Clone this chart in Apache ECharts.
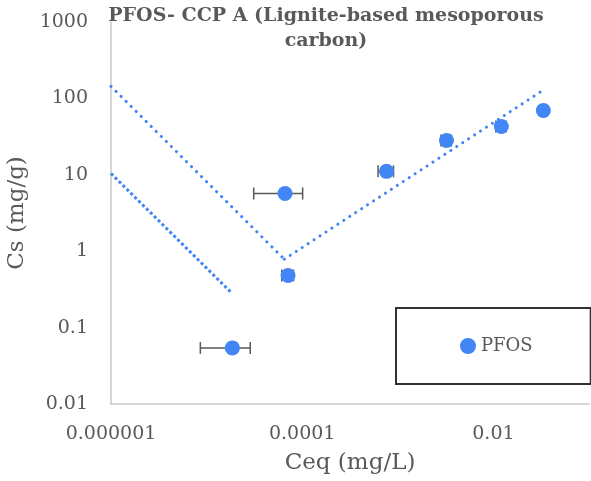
<!DOCTYPE html>
<html>
<head>
<meta charset="utf-8">
<script src="https://cdn.jsdelivr.net/npm/echarts@6/dist/echarts.min.js"></script>
<style>
  html, body { margin: 0; padding: 0; background: #fff; }
  #main { width: 591px; height: 481px; }
</style>
</head>
<body>
<div id="main"></div>
<script>
// PFOS points
const ceq = [1.86e-5, 6.61e-5, 7.11e-5, 7.62e-4, 3.23e-3, 1.21e-2, 3.33e-2];
const cs = [0.0542, 5.69, 0.481, 11.1, 28.1, 42.9, 69.5];
const ceqErr = [1e-5, 3.5e-5, 1e-5, 1.4e-4, 4e-4, 1.5e-3, 2.7e-3];

// trendline end points
const trendA = [[1e-6, 10.4], [1.8e-5, 0.29]];
const trendB = [[1e-6, 144], [6.5e-5, 0.786]];
const trendC = [[6.5e-5, 0.786], [3.18e-2, 124]];

const blue = '#4285f4';
const grey = '#595959';
const serif = 'DejaVu Serif';

var myChart = echarts.init(document.getElementById('main'));

function decimalLabel(v) {
  var e = Math.round(Math.log10(v));
  return e < 0 ? v.toFixed(-e) : String(Math.round(v));
}

var dotted = { color: blue, width: 3, type: [0.1, 7], cap: 'round' };

var option = {
  animation: false,
  title: {
    text: 'PFOS- CCP A (Lignite-based mesoporous\ncarbon)',
    left: 326,
    top: 4,
    padding: 0,
    textAlign: 'center',
    textStyle: { fontFamily: serif, fontWeight: 'bold', fontSize: 19, color: grey, lineHeight: 25 }
  },
  legend: {
    data: ['PFOS'],
    left: 396,
    top: 308,
    padding: [29, 58, 29, 64],
    borderColor: '#333',
    borderWidth: 2,
    icon: 'circle',
    itemWidth: 16,
    itemHeight: 16,
    itemGap: 5,
    textStyle: { fontFamily: serif, fontSize: 18, color: grey }
  },
  grid: { left: 111, right: 2, top: 22, bottom: 77, outerBoundsMode: 'none' },
  xAxis: {
    type: 'log',
    min: 1e-6,
    max: 0.1,
    name: 'Ceq (mg/L)',
    nameLocation: 'middle',
    nameGap: 48,
    nameTextStyle: { fontFamily: serif, fontSize: 23, color: grey },
    axisLine: { lineStyle: { color: '#c8c8c8', width: 1.5 } },
    axisTick: { show: false },
    splitLine: { show: false },
    axisLabel: {
      margin: 21,
      fontFamily: serif, fontSize: 19, color: grey,
      formatter: function (v) {
        var e = Math.round(Math.log10(v));
        return e % 2 === 0 ? decimalLabel(v) : '';
      }
    }
  },
  yAxis: {
    type: 'log',
    min: 0.01,
    max: 1000,
    name: 'Cs (mg/g)',
    nameLocation: 'middle',
    nameGap: 80,
    nameTextStyle: { fontFamily: serif, fontSize: 23, color: grey },
    axisLine: { show: true, lineStyle: { color: '#c8c8c8', width: 1.5 } },
    axisTick: { show: false },
    splitLine: { show: false },
    axisLabel: {
      margin: 23,
      fontFamily: serif, fontSize: 19, color: grey,
      formatter: decimalLabel
    }
  },
  series: [
    {
      type: 'line', data: trendA, symbol: 'none', silent: true,
      lineStyle: { color: blue, width: 3, type: [3, 2.5] }, z: 2
    },
    { type: 'line', data: trendB, symbol: 'none', silent: true, lineStyle: dotted, z: 2 },
    { type: 'line', data: trendC, symbol: 'none', silent: true, lineStyle: dotted, z: 2 },
    {
      type: 'custom',
      data: ceq.map((x, i) => [x, cs[i], ceqErr[i]]),
      encode: { x: 0, y: 1 },
      z: 3,
      renderItem: function (params, api) {
        var x = api.value(0), y = api.value(1), e = api.value(2);
        var a = api.coord([x - e, y]);
        var b = api.coord([x + e, y]);
        var st = { stroke: grey, lineWidth: 1.5, fill: null };
        return {
          type: 'group',
          children: [
            { type: 'line', shape: { x1: a[0], y1: a[1], x2: b[0], y2: b[1] }, style: st },
            { type: 'line', shape: { x1: a[0], y1: a[1] - 6, x2: a[0], y2: a[1] + 6 }, style: st },
            { type: 'line', shape: { x1: b[0], y1: b[1] - 6, x2: b[0], y2: b[1] + 6 }, style: st }
          ]
        };
      }
    },
    {
      name: 'PFOS',
      type: 'scatter',
      data: ceq.map((x, i) => [x, cs[i]]),
      symbol: 'circle',
      symbolSize: 15,
      itemStyle: { color: blue, opacity: 1 },
      z: 4
    }
  ]
};

option && myChart.setOption(option);
</script>
</body>
</html>
